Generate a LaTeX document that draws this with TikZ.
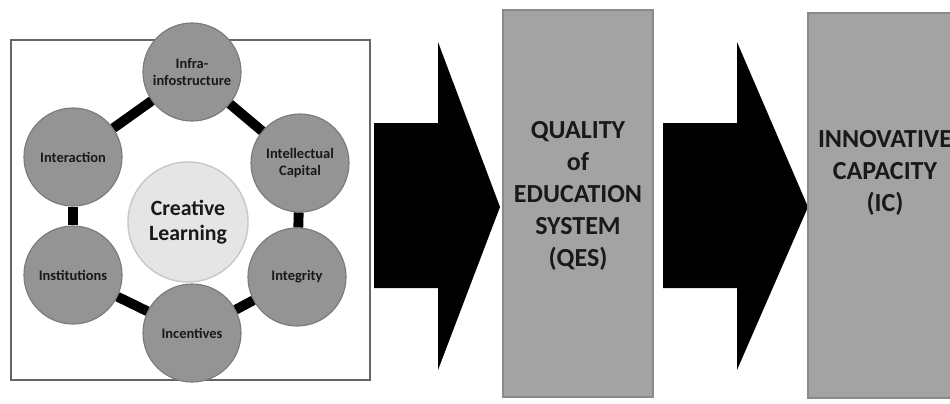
\documentclass[tikz,border=0pt]{standalone}
\usepackage{fontspec}
\setmainfont{Carlito}
\begin{document}
\begin{tikzpicture}[
  x=0.025cm, y=-0.025cm,
  every node/.style={align=center, text=black!90},
  petal/.style={circle, minimum size=2.45cm, inner sep=0pt, fill=black!42,
    draw=black!52, line width=0.8pt, font=\bfseries\fontsize{10.3}{11.5}\selectfont},
  hub/.style={circle, minimum size=3cm, inner sep=0pt, fill=black!10,
    draw=black!22, line width=1pt, font=\bfseries\fontsize{15.5}{18}\selectfont},
  ring/.style={line width=7pt, black},
  stage/.style={fill=black!36, draw=black!46, line width=1pt},
  stagetext/.style={font=\bfseries\fontsize{18.5}{22.8}\selectfont},
]
\useasboundingbox[fill=white] (0,0) rectangle (950,403);

% ── frame round the cycle ──────────────
\draw[black!60, line width=1.5pt] (11,40) rectangle (370,380);

% ── the six I's ────────────────────────
\node[petal] (infra)  at (192,72)  {Infra-\\infostructure};
\node[petal] (intel)  at (300,163) {Intellectual\\Capital};
\node[petal] (integ)  at (297,277) {Integrity};
\node[petal] (incent) at (192,333) {Incentives};
\node[petal] (instit) at (73,275)  {Institutions};
\node[petal] (inter)  at (73,157)  {Interaction};
\node[hub]   (creat)  at (188,222) {Creative\\Learning};

\draw[ring] (infra) -- (intel);
\draw[ring] (intel) -- (integ);
\draw[ring] (integ) -- (incent);
\draw[ring] (incent) -- (instit);
\draw[ring] (instit) -- (inter);
\draw[ring] (inter) -- (infra);

% ── block arrows ───────────────────────
\fill[black] (374,123) -- (438,123) -- (438,42) -- (500,207)
  -- (438,370) -- (438,288) -- (374,288) -- cycle;
\fill[black] (663,123) -- (737,123) -- (737,42) -- (808,207)
  -- (737,370) -- (737,288) -- (663,288) -- cycle;

% ── stages ─────────────────────────────
\draw[stage] (503,10) rectangle (653,397);
\node[stagetext] (qes) at (578,196)
  {QUALITY\\of\\EDUCATION\\SYSTEM\\(QES)};
\draw[stage] (808,13) rectangle (970,398);
\node[stagetext] (ic) at (885,173)
  {INNOVATIVE\\CAPACITY\\(IC)};

\end{tikzpicture}
\end{document}
